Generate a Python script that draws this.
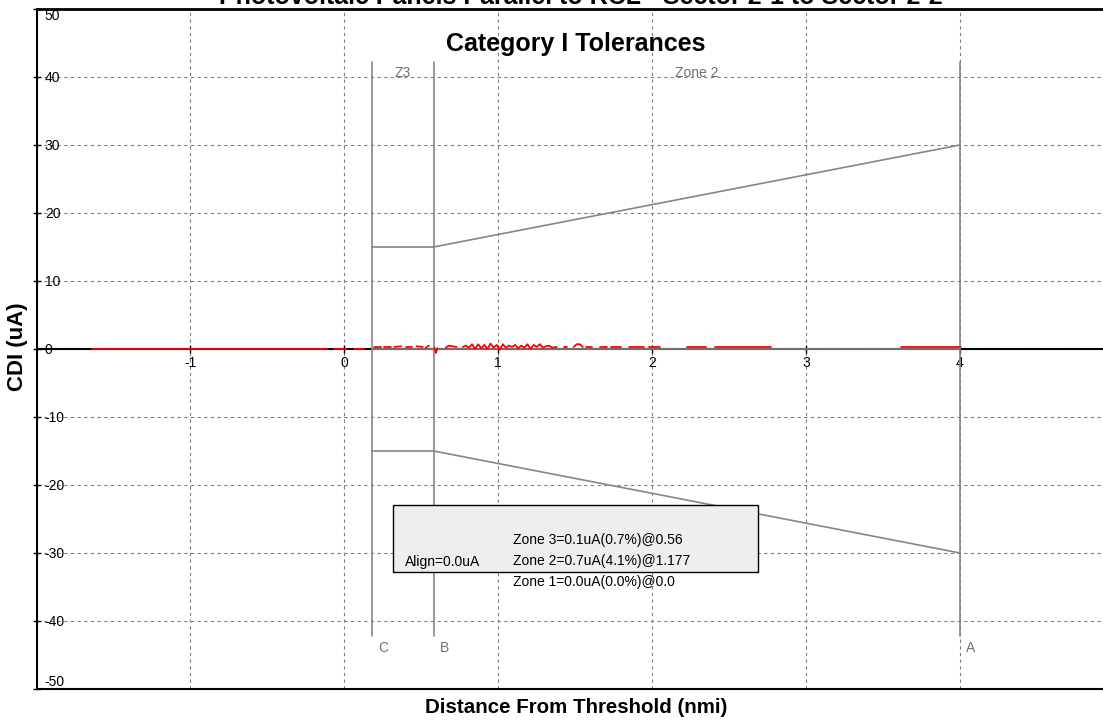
import numpy as np, pandas as pd, seaborn as sns, matplotlib.pyplot as plt
from matplotlib.patches import Rectangle

# axis ticks
x_ticks = [-1, 0, 1, 2, 3, 4]
y_ticks = [-50, -40, -30, -20, -10, 0, 10, 20, 30, 40, 50]

# tolerance zones: C, B, A (nmi) and the CDI limits there (uA)
zone_names = ['C', 'B', 'A']
zone_x = [0.18, 0.58, 4.0]
tol_upper = [15, 15, 30]
tol_lower = [-15, -15, -30]
zone_line_top = 42.2
zone_titles = ['Z3', 'Zone 2']

# CDI trace, one list per recorded piece
trace_x_segs = [
    [-1.64, -0.11],
    [-0.07, 0.01],
    [0.06, 0.13],
    [0.195, 0.24],
    [0.26, 0.305],
    [0.325, 0.37],
    [0.40, 0.44],
    [0.47, 0.51],
    [0.53, 0.55],
    [0.585, 0.595, 0.605],
    [0.66, 0.68, 0.70, 0.73],
    [0.77, 0.79, 0.81, 0.83, 0.85, 0.87, 0.89, 0.91, 0.93, 0.95, 0.97, 0.99, 1.01, 1.03, 1.05, 1.07,
     1.09, 1.11, 1.13, 1.15, 1.17, 1.19, 1.21, 1.23, 1.25, 1.27, 1.29, 1.31, 1.33, 1.35, 1.38],
    [1.43, 1.45],
    [1.49, 1.51, 1.53, 1.55],
    [1.57, 1.61],
    [1.66, 1.71],
    [1.73, 1.80],
    [1.85, 1.95],
    [1.98, 2.05],
    [2.23, 2.35],
    [2.41, 2.77],
    [3.62, 4.00],
]
trace_y_segs = [
    [0, 0],
    [0, 0],
    [0, 0],
    [0.3, 0.3],
    [0.3, 0.3],
    [0.3, 0.4],
    [0.3, 0.3],
    [0.4, 0.3],
    [0.2, 0.5],
    [0.2, -0.6, 0.1],
    [0.2, 0.5, 0.4, 0.3],
    [0.3, 0.5, 0.2, 0.7, 0.0, 0.7, 0.1, 0.6, 0.0, 0.8, 0.2, 0.6, -0.1, 0.7, 0.2, 0.5,
     0.3, 0.6, 0.1, 0.5, 0.2, 0.7, 0.0, 0.6, 0.3, 0.7, 0.2, 0.4, 0.5, 0.2, 0.3],
    [0.3, 0.3],
    [0.3, 0.7, 0.7, 0.3],
    [0.3, 0.3],
    [0.3, 0.3],
    [0.3, 0.3],
    [0.3, 0.3],
    [0.3, 0.3],
    [0.3, 0.3],
    [0.3, 0.3],
    [0.3, 0.3],
]

align_text = 'Align=0.0uA'
zone_results = ['Zone 3=0.1uA(0.7%)@0.56', 'Zone 2=0.7uA(4.1%)@1.177', 'Zone 1=0.0uA(0.0%)@0.0']

sns.set_style('ticks')
plt.rcParams['font.family'] = ['Liberation Sans', 'DejaVu Sans']
plt.rcParams['text.color'] = 'black'
plt.rcParams['axes.labelcolor'] = 'black'
plt.rcParams['xtick.color'] = 'black'
plt.rcParams['ytick.color'] = 'black'
plt.rcParams['axes.edgecolor'] = 'black'

fig = plt.figure(figsize=(11.03, 7.2), dpi=100)
ax = fig.add_axes([0.0331, 0.0431, 0.9669, 0.9444])
ax.set_xlim(-2.0, 4.93)
ax.set_ylim(-50, 50)

gray = '#868686'

# grid
ax.grid(True, color='#808080', linestyle=(0, (3, 3)), linewidth=0.8)

# zone boundary lines and envelope
for zx in zone_x:
    ax.plot([zx, zx], [-zone_line_top, zone_line_top], color=gray, lw=1.2, zorder=3)
ax.plot(zone_x, tol_upper, color=gray, lw=1.2, zorder=3)
ax.plot(zone_x, tol_lower, color=gray, lw=1.2, zorder=3)
ax.plot([zone_x[0], zone_x[-1]], [0, 0], color=gray, lw=1.2, zorder=3)

# trace
rows = []
for i, (xs, ys) in enumerate(zip(trace_x_segs, trace_y_segs)):
    for xv, yv in zip(xs, ys):
        rows.append((i, xv, yv))
df = pd.DataFrame(rows, columns=['seg', 'x', 'y'])
sns.lineplot(data=df, x='x', y='y', units='seg', estimator=None, sort=False,
             color='red', lw=1.3, ax=ax, zorder=4)

# zone texts
for i, name in enumerate(zone_titles):
    ax.text((zone_x[i] + zone_x[i + 1]) / 2, 40.6, name, color='#707070', fontsize=10,
            ha='center', va='center', zorder=5)
for zx, name in zip(zone_x, zone_names):
    ax.text(zx + 0.04, -44.0, name, color='#707070', fontsize=10, ha='left', va='center', zorder=5)

# result box
ax.add_patch(Rectangle((0.315, -32.8), 2.374, 9.9, facecolor='#eeeeee', edgecolor='black',
                       lw=1, zorder=6))
ax.text(0.392, -31.4, align_text, fontsize=10, ha='left', va='center', zorder=7)
for i, s in enumerate(zone_results):
    ax.text(1.095, -28.1 - 3.05 * i, s, fontsize=10, ha='left', va='center', zorder=7)

# axes styling
ax.spines['bottom'].set_position(('data', 0))
ax.spines['bottom'].set_linewidth(1.5)
ax.spines['bottom'].set_zorder(2.5)
ax.spines['left'].set_linewidth(1.5)
ax.spines['top'].set_linewidth(2)
ax.spines['right'].set_visible(False)
ax.axhline(-50, color='black', lw=1.5, clip_on=False, zorder=5)

ax.set_xticks(x_ticks, [str(t) for t in x_ticks])
ax.set_yticks(y_ticks, [str(t) for t in y_ticks], ha='left')
ax.get_yticklabels()[0].set_va('bottom')
ax.get_yticklabels()[-1].set_va('top')
ax.tick_params(axis='x', direction='inout', length=6, pad=2, labelsize=10, width=1)
ax.tick_params(axis='y', direction='inout', length=6, pad=-9, labelsize=10, width=1)

ax.set_xlabel('Distance From Threshold (nmi)', fontsize=14.8, fontweight='bold')
ax.set_ylabel('CDI (uA)', fontsize=16, fontweight='bold')
ax.xaxis.set_label_coords(0.506, -0.0135)
ax.yaxis.set_label_coords(-0.008, 0.504)

ax.text(0.5056, 0.9485, 'Category I Tolerances', transform=ax.transAxes, fontsize=18,
        fontweight='bold', ha='center', va='center')
fig.text(0.527, 0.9945, 'Photovoltaic Panels Parallel to RCL - Sector 2-1 to Sector 2-2',
         fontsize=18, fontweight='bold', ha='center', va='baseline')

fig.savefig('out.png', dpi=100)
